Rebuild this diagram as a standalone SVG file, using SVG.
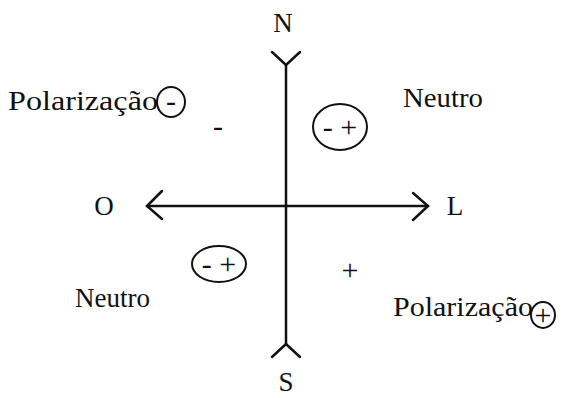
<svg xmlns="http://www.w3.org/2000/svg" width="564" height="398" viewBox="0 0 564 398">
<style>
text{font-family:"Liberation Serif","Times New Roman",serif;fill:#111}
.lab{font-size:27px}
.big{font-size:27px}
.sym{font-size:30px}
.ln{stroke:#111;stroke-width:2.5;fill:none;stroke-linecap:round;stroke-linejoin:miter}
.circ{stroke:#111;stroke-width:2;fill:none}
</style>
<rect width="564" height="398" fill="#fff"/>
<g id="connectors">
<path class="ln" d="M286,65 L286,344"/>
<path class="ln" d="M272,52 L286,65 L300,52"/>
<path class="ln" d="M272,357 L286,344 L300,357"/>
<path class="ln" d="M147,206 L428,206"/>
<path class="ln" d="M162,191 L147,206 L162,219"/>
<path class="ln" d="M413,193 L428,206 L413,220"/>
</g>
<g id="north"><text class="big" x="283" y="32" text-anchor="middle">N</text></g>
<g id="south"><text class="big" x="286" y="391" text-anchor="middle">S</text></g>
<g id="west"><text class="big" x="104" y="215" text-anchor="middle">O</text></g>
<g id="east"><text class="big" x="455" y="215" text-anchor="middle">L</text></g>
<g id="polar-neg">
<text class="lab" x="8" y="110" textLength="150" lengthAdjust="spacingAndGlyphs">Polarização</text>
<ellipse class="circ" cx="171" cy="102" rx="14" ry="15"/>
<text class="sym" x="171" y="111" text-anchor="middle">-</text>
</g>
<g id="minus-sign"><text class="sym" x="218" y="136" text-anchor="middle">-</text></g>
<g id="neutral-ne">
<ellipse class="circ" cx="340" cy="127" rx="27" ry="23"/>
<text class="sym" x="340" y="137" text-anchor="middle">- +</text>
<text class="lab" x="403" y="107" textLength="80" lengthAdjust="spacingAndGlyphs">Neutro</text>
</g>
<g id="neutral-sw">
<ellipse class="circ" cx="219" cy="264" rx="27" ry="18"/>
<text class="sym" x="219" y="274" text-anchor="middle">- +</text>
<text class="lab" x="75" y="307" textLength="75" lengthAdjust="spacingAndGlyphs">Neutro</text>
</g>
<g id="plus-sign"><text class="sym" x="350" y="280" text-anchor="middle">+</text></g>
<g id="polar-pos">
<text class="lab" x="393" y="316" textLength="140" lengthAdjust="spacingAndGlyphs">Polarização</text>
<ellipse class="circ" cx="543" cy="315" rx="12" ry="13"/>
<text class="sym" x="543" y="325" text-anchor="middle">+</text>
</g>
</svg>
